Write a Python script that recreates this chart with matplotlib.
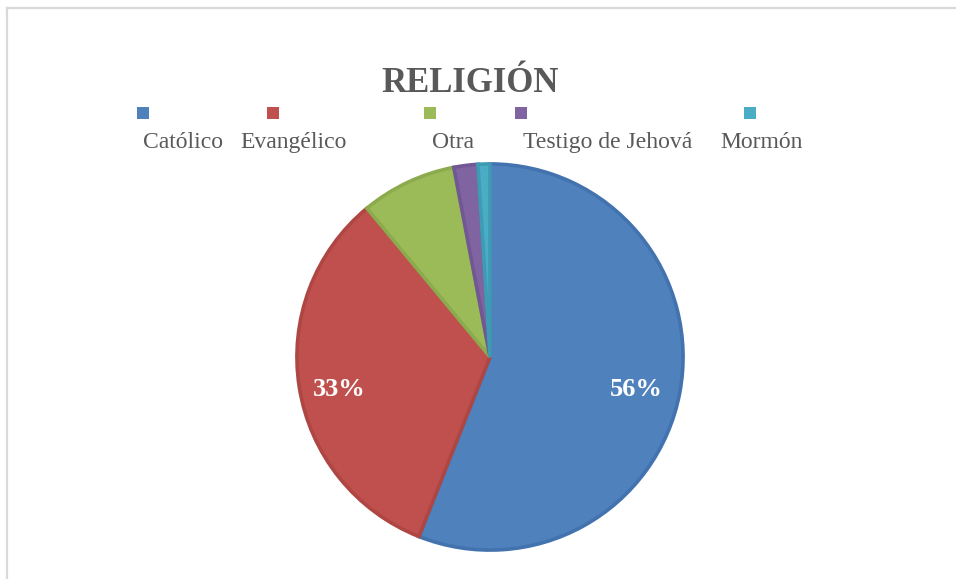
import matplotlib
matplotlib.use("Agg")
import matplotlib.pyplot as plt
from matplotlib.patches import Rectangle
from matplotlib.lines import Line2D

categories = ["Católico", "Evangélico", "Otra", "Testigo de Jehová", "Mormón"]
values = [56, 33, 8, 2, 1]
colors = ["#4F81BD", "#C0504D", "#9BBB59", "#8064A2", "#4BACC6"]
edge_colors = ["#4373AE", "#AE4643", "#8CAB4E", "#715793", "#3F9AB3"]
title = "RELIGIÓN"

W, H = 956, 579
fig = plt.figure(figsize=(W / 100, H / 100), dpi=100)
fig.patch.set_facecolor("white")

# frame lines (top and left)
fig.add_artist(Line2D([7 / W, 1], [1 - 8 / H, 1 - 8 / H], transform=fig.transFigure,
                      color="#D9D9D9", lw=1.6))
fig.add_artist(Line2D([7 / W, 7 / W], [0, 1 - 8 / H], transform=fig.transFigure,
                      color="#D9D9D9", lw=1.6))

cx, cy, r = 490, 357, 195
ax = fig.add_axes([(cx - r) / W, 1 - (cy + r) / H, 2 * r / W, 2 * r / H])

def fmt(p):
    return f"{p:.0f}%" if p >= 20 else ""

wedges, texts, autotexts = ax.pie(
    values, colors=colors, startangle=90, counterclock=False,
    autopct=fmt, pctdistance=0.78,
    wedgeprops=dict(linewidth=2.6),
    textprops=dict(color="white", fontsize=19, fontweight="bold", family="Liberation Serif"))
for w, ec in zip(wedges, edge_colors):
    w.set_edgecolor(ec)
# label placement (layout)
label_pos = {0: (0.76, -0.17), 1: (-0.78, -0.17)}
for i, (px, py) in label_pos.items():
    autotexts[i].set_position((px, py))
ax.set_xlim(-1.01, 1.01)
ax.set_ylim(-1.01, 1.01)
ax.set_aspect("equal")
ax.axis("off")

fig.text(470 / W, 1 - 92 / H, title, ha="center", va="baseline", fontsize=25,
         fontweight="bold", color="#595959", family="Liberation Serif")

marker_x = [137, 267, 424, 515, 744]
label_x = [183, 294, 453, 608, 762]
for mx, lx, c, name in zip(marker_x, label_x, colors, categories):
    fig.add_artist(Rectangle((mx / W, 1 - 119 / H), 12 / W, 12 / H,
                             transform=fig.transFigure, facecolor=c, edgecolor="none"))
    fig.text(lx / W, 1 - 148 / H, name, ha="center", va="baseline", fontsize=17,
             color="#595959", family="Liberation Serif")

fig.savefig("out.png", dpi=100, facecolor="white")
